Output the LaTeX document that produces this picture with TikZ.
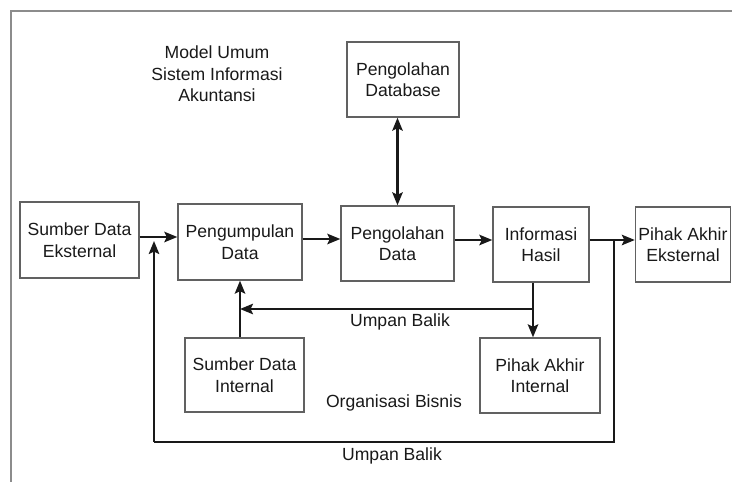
\documentclass[tikz,border=0pt]{standalone}
\usepackage{fontspec}
\setmainfont{Liberation Sans}
\usetikzlibrary{arrows.meta,calc}
\begin{document}
\begin{tikzpicture}[x=1pt,y=-1pt,
  txt/.style={align=center, inner sep=0pt, text=black!90, font=\fontsize{17.6}{21.5}\selectfont},
  box/.style={txt, draw=black!62, line width=1.4pt, rectangle},
  ln/.style={line width=2.1pt, black!90},
  arr/.style={ln, -{Stealth[length=13pt,width=10.5pt,inset=2.5pt]}},
  darr/.style={ln, {Stealth[length=13pt,width=10.5pt,inset=2.5pt]}-{Stealth[length=13pt,width=10.5pt,inset=2.5pt]}}]
\useasboundingbox (0,0) rectangle (732,482);
\draw[black!45, line width=1.8pt] (11,482) -- (11,11) -- (732,11);

% boxes
\node[box, minimum width=119pt, minimum height=76pt] (sde) at (79.5,240) {Sumber Data\\Eksternal};
\node[box, minimum width=124pt, minimum height=76pt] (pd) at (240,242) {Pengumpulan\\Data};
\node[box, minimum width=113pt, minimum height=75pt] (pdata) at (397.5,243.5) {Pengolahan\\Data};
\node[box, minimum width=112pt, minimum height=75pt] (db) at (403,79.5) {Pengolahan\\Database};
\node[box, minimum width=96pt, minimum height=75pt] (ih) at (541,244.5) {Informasi\\Hasil};
\node[box, minimum width=95pt, minimum height=75pt] (pae) at (683,244.5) {Pihak Akhir\\Eksternal};
\node[box, minimum width=119pt, minimum height=74pt] (sdi) at (244.5,375) {Sumber Data\\Internal};
\node[box, minimum width=120pt, minimum height=75pt] (pai) at (540,375.5) {Pihak Akhir\\Internal};

% labels
\node[txt] (title) at (217,74) {Model Umum\\Sistem Informasi\\Akuntansi};
\node[txt] (ub1) at (400,322) {Umpan Balik};
\node[txt] (org) at (394,403) {Organisasi Bisnis};
\node[txt] (ub2) at (392,456) {Umpan Balik};

% helper coordinates
\coordinate (y1) at (0,237);
\coordinate (y2) at (0,239);
\coordinate (y3) at (0,240);
\coordinate (xi) at (533,0);
\coordinate (fb1) at (533,309);
\coordinate (xo) at (614,0);
\coordinate (c1) at (614,442);
\coordinate (c2) at (154,442);
\coordinate (t2) at (154,241);

% main flow
\draw[arr] (sde.east |- y1) -- (pd.west |- y1);
\draw[arr] (pd.east |- y2) -- (pdata.west |- y2);
\draw[arr] (pdata.east |- y3) -- (ih.west |- y3);
\draw[arr] (ih.east |- y3) -- (pae.west |- y3);
\draw[darr] (pdata.north) -- (pdata.north |- db.south);

% internal
\draw[arr] (ih.south -| xi) -- (pai.north -| xi);
\draw[arr] (sdi.north -| pd.south) -- (pd.south);
\draw[arr] (fb1) -- (fb1 -| pd.south);

% outer feedback
\draw[ln] (xo |- y3) -- (c1) -- (c2);
\draw[arr] (c2) -- (t2);
\end{tikzpicture}
\end{document}
